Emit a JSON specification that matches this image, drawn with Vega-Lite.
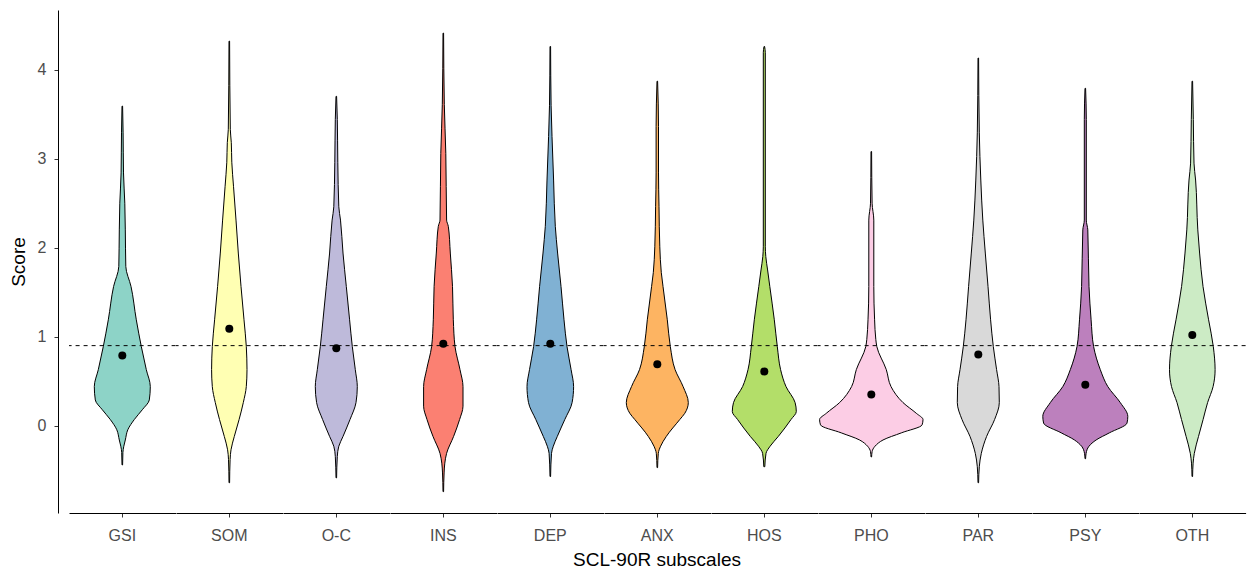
{
  "$schema": "https://vega.github.io/schema/vega-lite/v6.json",
  "padding": {"left": 9, "top": 10, "right": 0, "bottom": 0},
  "background": "white",
  "bounds": "flush",
  "data": {"values": [
    {"subscale": "GSI", "score": 3.59, "w": 0.6}, {"subscale": "GSI", "score": 3.29, "w": 1.6}, {"subscale": "GSI", "score": 2.84, "w": 2.4}, {"subscale": "GSI", "score": 2.5, "w": 5}, {"subscale": "GSI", "score": 2.2, "w": 6}, {"subscale": "GSI", "score": 1.79, "w": 7}, {"subscale": "GSI", "score": 1.565, "w": 17.4}, {"subscale": "GSI", "score": 1.19, "w": 28}, {"subscale": "GSI", "score": 0.89, "w": 38}, {"subscale": "GSI", "score": 0.63, "w": 48}, {"subscale": "GSI", "score": 0.44, "w": 56}, {"subscale": "GSI", "score": 0.29, "w": 54}, {"subscale": "GSI", "score": 0.18, "w": 40}, {"subscale": "GSI", "score": 0.07, "w": 24}, {"subscale": "GSI", "score": -0.045, "w": 11}, {"subscale": "GSI", "score": -0.16, "w": 6}, {"subscale": "GSI", "score": -0.23, "w": 3}, {"subscale": "GSI", "score": -0.3, "w": 1.2}, {"subscale": "GSI", "score": -0.44, "w": 0.6},
    {"subscale": "SOM", "score": 4.32, "w": 0.6}, {"subscale": "SOM", "score": 3.33, "w": 2}, {"subscale": "SOM", "score": 3.18, "w": 4}, {"subscale": "SOM", "score": 2.96, "w": 5}, {"subscale": "SOM", "score": 2.69, "w": 8.4}, {"subscale": "SOM", "score": 2.31, "w": 13.4}, {"subscale": "SOM", "score": 1.94, "w": 18}, {"subscale": "SOM", "score": 1.565, "w": 23.4}, {"subscale": "SOM", "score": 1.19, "w": 29.4}, {"subscale": "SOM", "score": 0.89, "w": 34}, {"subscale": "SOM", "score": 0.63, "w": 35.4}, {"subscale": "SOM", "score": 0.44, "w": 34}, {"subscale": "SOM", "score": 0.26, "w": 28}, {"subscale": "SOM", "score": 0.07, "w": 19.6}, {"subscale": "SOM", "score": -0.12, "w": 10}, {"subscale": "SOM", "score": -0.27, "w": 3.4}, {"subscale": "SOM", "score": -0.38, "w": 1.6}, {"subscale": "SOM", "score": -0.64, "w": 0.6},
    {"subscale": "O-C", "score": 3.7, "w": 0.6}, {"subscale": "O-C", "score": 3.44, "w": 2}, {"subscale": "O-C", "score": 2.96, "w": 3}, {"subscale": "O-C", "score": 2.46, "w": 5}, {"subscale": "O-C", "score": 2.31, "w": 8.4}, {"subscale": "O-C", "score": 1.94, "w": 13.4}, {"subscale": "O-C", "score": 1.565, "w": 20}, {"subscale": "O-C", "score": 1.19, "w": 26.6}, {"subscale": "O-C", "score": 0.89, "w": 32}, {"subscale": "O-C", "score": 0.63, "w": 38}, {"subscale": "O-C", "score": 0.44, "w": 42}, {"subscale": "O-C", "score": 0.26, "w": 39.4}, {"subscale": "O-C", "score": 0.07, "w": 27.4}, {"subscale": "O-C", "score": -0.12, "w": 13.4}, {"subscale": "O-C", "score": -0.23, "w": 5}, {"subscale": "O-C", "score": -0.345, "w": 2}, {"subscale": "O-C", "score": -0.585, "w": 0.6},
    {"subscale": "INS", "score": 4.41, "w": 0.6}, {"subscale": "INS", "score": 3.61, "w": 2}, {"subscale": "INS", "score": 3.06, "w": 5}, {"subscale": "INS", "score": 2.31, "w": 6.6}, {"subscale": "INS", "score": 2.24, "w": 10}, {"subscale": "INS", "score": 1.94, "w": 14}, {"subscale": "INS", "score": 1.565, "w": 18.4}, {"subscale": "INS", "score": 1.19, "w": 20}, {"subscale": "INS", "score": 0.89, "w": 23.4}, {"subscale": "INS", "score": 0.63, "w": 33.4}, {"subscale": "INS", "score": 0.44, "w": 39.4}, {"subscale": "INS", "score": 0.22, "w": 39.4}, {"subscale": "INS", "score": 0.07, "w": 32.6}, {"subscale": "INS", "score": -0.12, "w": 20.6}, {"subscale": "INS", "score": -0.31, "w": 6.6}, {"subscale": "INS", "score": -0.42, "w": 3}, {"subscale": "INS", "score": -0.53, "w": 1.6}, {"subscale": "INS", "score": -0.74, "w": 0.6},
    {"subscale": "DEP", "score": 4.26, "w": 0.6}, {"subscale": "DEP", "score": 3.6, "w": 1.6}, {"subscale": "DEP", "score": 3.25, "w": 3.4}, {"subscale": "DEP", "score": 2.76, "w": 6.6}, {"subscale": "DEP", "score": 2.24, "w": 10}, {"subscale": "DEP", "score": 1.94, "w": 14.6}, {"subscale": "DEP", "score": 1.565, "w": 21.4}, {"subscale": "DEP", "score": 1.19, "w": 27.4}, {"subscale": "DEP", "score": 0.89, "w": 33.4}, {"subscale": "DEP", "score": 0.63, "w": 41.6}, {"subscale": "DEP", "score": 0.44, "w": 46.6}, {"subscale": "DEP", "score": 0.26, "w": 43.6}, {"subscale": "DEP", "score": 0.07, "w": 29}, {"subscale": "DEP", "score": -0.12, "w": 14}, {"subscale": "DEP", "score": -0.23, "w": 6}, {"subscale": "DEP", "score": -0.31, "w": 2.4}, {"subscale": "DEP", "score": -0.57, "w": 0.6},
    {"subscale": "ANX", "score": 3.87, "w": 0.6}, {"subscale": "ANX", "score": 3.36, "w": 2.4}, {"subscale": "ANX", "score": 2.84, "w": 2.4}, {"subscale": "ANX", "score": 2.46, "w": 3.4}, {"subscale": "ANX", "score": 2.01, "w": 5}, {"subscale": "ANX", "score": 1.72, "w": 8}, {"subscale": "ANX", "score": 1.565, "w": 11.4}, {"subscale": "ANX", "score": 1.19, "w": 20}, {"subscale": "ANX", "score": 0.89, "w": 26}, {"subscale": "ANX", "score": 0.63, "w": 35.6}, {"subscale": "ANX", "score": 0.44, "w": 51.6}, {"subscale": "ANX", "score": 0.26, "w": 62}, {"subscale": "ANX", "score": 0.14, "w": 55}, {"subscale": "ANX", "score": 0.07, "w": 45}, {"subscale": "ANX", "score": -0.12, "w": 18}, {"subscale": "ANX", "score": -0.23, "w": 6.6}, {"subscale": "ANX", "score": -0.31, "w": 2}, {"subscale": "ANX", "score": -0.47, "w": 0.6},
    {"subscale": "HOS", "score": 4.26, "w": 0.6}, {"subscale": "HOS", "score": 4.19, "w": 2}, {"subscale": "HOS", "score": 2.01, "w": 2}, {"subscale": "HOS", "score": 1.9, "w": 3}, {"subscale": "HOS", "score": 1.75, "w": 6.6}, {"subscale": "HOS", "score": 1.565, "w": 11}, {"subscale": "HOS", "score": 1.19, "w": 20}, {"subscale": "HOS", "score": 0.89, "w": 26}, {"subscale": "HOS", "score": 0.63, "w": 32.6}, {"subscale": "HOS", "score": 0.44, "w": 43.4}, {"subscale": "HOS", "score": 0.26, "w": 61.6}, {"subscale": "HOS", "score": 0.16, "w": 64}, {"subscale": "HOS", "score": 0.07, "w": 53.4}, {"subscale": "HOS", "score": -0.12, "w": 28}, {"subscale": "HOS", "score": -0.23, "w": 11.6}, {"subscale": "HOS", "score": -0.31, "w": 3.4}, {"subscale": "HOS", "score": -0.46, "w": 1},
    {"subscale": "PHO", "score": 3.08, "w": 0.6}, {"subscale": "PHO", "score": 2.5, "w": 1.6}, {"subscale": "PHO", "score": 2.31, "w": 5}, {"subscale": "PHO", "score": 1.565, "w": 5}, {"subscale": "PHO", "score": 1.19, "w": 6.6}, {"subscale": "PHO", "score": 0.97, "w": 9}, {"subscale": "PHO", "score": 0.89, "w": 11}, {"subscale": "PHO", "score": 0.63, "w": 30}, {"subscale": "PHO", "score": 0.44, "w": 39.4}, {"subscale": "PHO", "score": 0.26, "w": 63.4}, {"subscale": "PHO", "score": 0.14, "w": 90}, {"subscale": "PHO", "score": 0.07, "w": 103.4}, {"subscale": "PHO", "score": 0.01, "w": 101.6}, {"subscale": "PHO", "score": -0.08, "w": 60}, {"subscale": "PHO", "score": -0.16, "w": 23.4}, {"subscale": "PHO", "score": -0.23, "w": 7.4}, {"subscale": "PHO", "score": -0.29, "w": 1.6}, {"subscale": "PHO", "score": -0.35, "w": 0.6},
    {"subscale": "PAR", "score": 4.13, "w": 0.6}, {"subscale": "PAR", "score": 3.29, "w": 2}, {"subscale": "PAR", "score": 2.76, "w": 5}, {"subscale": "PAR", "score": 2.31, "w": 9}, {"subscale": "PAR", "score": 1.94, "w": 14}, {"subscale": "PAR", "score": 1.565, "w": 19.4}, {"subscale": "PAR", "score": 1.19, "w": 24.6}, {"subscale": "PAR", "score": 0.89, "w": 30}, {"subscale": "PAR", "score": 0.63, "w": 36.6}, {"subscale": "PAR", "score": 0.44, "w": 41.4}, {"subscale": "PAR", "score": 0.26, "w": 42}, {"subscale": "PAR", "score": 0.07, "w": 32.6}, {"subscale": "PAR", "score": -0.12, "w": 16.6}, {"subscale": "PAR", "score": -0.31, "w": 6}, {"subscale": "PAR", "score": -0.46, "w": 2}, {"subscale": "PAR", "score": -0.64, "w": 0.6},
    {"subscale": "PSY", "score": 3.79, "w": 0.6}, {"subscale": "PSY", "score": 3.44, "w": 2}, {"subscale": "PSY", "score": 2.31, "w": 2}, {"subscale": "PSY", "score": 2.2, "w": 5}, {"subscale": "PSY", "score": 1.565, "w": 7.4}, {"subscale": "PSY", "score": 1.19, "w": 11.6}, {"subscale": "PSY", "score": 0.89, "w": 16.6}, {"subscale": "PSY", "score": 0.63, "w": 30}, {"subscale": "PSY", "score": 0.44, "w": 45}, {"subscale": "PSY", "score": 0.26, "w": 70}, {"subscale": "PSY", "score": 0.105, "w": 85}, {"subscale": "PSY", "score": 0.03, "w": 83.4}, {"subscale": "PSY", "score": -0.08, "w": 48}, {"subscale": "PSY", "score": -0.16, "w": 21.6}, {"subscale": "PSY", "score": -0.23, "w": 7.4}, {"subscale": "PSY", "score": -0.31, "w": 1.6}, {"subscale": "PSY", "score": -0.37, "w": 0.6},
    {"subscale": "OTH", "score": 3.87, "w": 0.6}, {"subscale": "OTH", "score": 3.44, "w": 2}, {"subscale": "OTH", "score": 2.95, "w": 3.4}, {"subscale": "OTH", "score": 2.76, "w": 6.6}, {"subscale": "OTH", "score": 2.2, "w": 11}, {"subscale": "OTH", "score": 1.94, "w": 14.6}, {"subscale": "OTH", "score": 1.565, "w": 21.4}, {"subscale": "OTH", "score": 1.19, "w": 32.6}, {"subscale": "OTH", "score": 0.89, "w": 42}, {"subscale": "OTH", "score": 0.63, "w": 45.6}, {"subscale": "OTH", "score": 0.44, "w": 41.6}, {"subscale": "OTH", "score": 0.26, "w": 30.6}, {"subscale": "OTH", "score": 0.07, "w": 21.6}, {"subscale": "OTH", "score": -0.12, "w": 12.4}, {"subscale": "OTH", "score": -0.31, "w": 4}, {"subscale": "OTH", "score": -0.42, "w": 1.6}, {"subscale": "OTH", "score": -0.57, "w": 0.6},
    {"subscale": "GSI", "mean": 0.79}, {"subscale": "SOM", "mean": 1.09}, {"subscale": "O-C", "mean": 0.87}, {"subscale": "INS", "mean": 0.92}, {"subscale": "DEP", "mean": 0.92}, {"subscale": "ANX", "mean": 0.69}, {"subscale": "HOS", "mean": 0.61}, {"subscale": "PHO", "mean": 0.35}, {"subscale": "PAR", "mean": 0.8}, {"subscale": "PSY", "mean": 0.46}, {"subscale": "OTH", "mean": 1.02}
  ]},
  "facet": {
    "column": {
      "field": "subscale", "type": "nominal",
      "sort": ["GSI", "SOM", "O-C", "INS", "DEP", "ANX", "HOS", "PHO", "PAR", "PSY", "OTH"],
      "title": "SCL-90R subscales",
      "header": {
        "labelOrient": "bottom", "titleOrient": "bottom",
        "labelFont": "Liberation Sans", "labelFontSize": 16, "labelColor": "#4D4D4D", "labelPadding": 10,
        "titleFont": "Liberation Sans", "titleFontSize": 19, "titleFontWeight": "normal", "titleColor": "black", "titlePadding": -3
      }
    }
  },
  "spacing": 0,
  "spec": {
    "width": 106.6,
    "height": 503,
    "layer": [
      {
        "transform": [
          {"filter": "isValid(datum.w)"},
          {"calculate": "-datum.w / 2", "as": "lo"},
          {"calculate": "datum.w / 2", "as": "hi"}
        ],
        "mark": {"type": "area", "orient": "horizontal", "stroke": "black", "strokeWidth": 1, "interpolate": "monotone", "opacity": 1},
        "encoding": {
          "y": {"field": "score", "type": "quantitative", "scale": {"domain": [-0.98, 4.67], "nice": false, "zero": false},
                "axis": {"title": "Score", "values": [0, 1, 2, 3, 4], "format": "d", "grid": false, "offset": 11, "tickSize": 4, "labelPadding": 8, "domainColor": "black", "tickColor": "#333333", "labelColor": "#4D4D4D", "labelFontSize": 16, "labelFont": "Liberation Sans", "titleFont": "Liberation Sans", "titleFontSize": 19, "titleFontWeight": "normal", "titleColor": "black", "titlePadding": 9}},
          "x": {"field": "lo", "type": "quantitative", "scale": {"domain": [-53.3, 53.3], "nice": false, "zero": false},
                "axis": {"title": null, "values": [0], "labels": false, "grid": false, "tickSize": 4, "domainColor": "black", "tickColor": "#333333"}},
          "x2": {"field": "hi"},
          "color": {"field": "subscale", "type": "nominal", "legend": null,
                    "scale": {"domain": ["GSI", "SOM", "O-C", "INS", "DEP", "ANX", "HOS", "PHO", "PAR", "PSY", "OTH"],
                              "range": ["#8DD3C7", "#FFFFB3", "#BEBADA", "#FB8072", "#80B1D3", "#FDB462", "#B3DE69", "#FCCDE5", "#D9D9D9", "#BC80BD", "#CCEBC5"]}}
        }
      },
      {
        "transform": [{"filter": "isValid(datum.mean)"}],
        "mark": {"type": "rule", "color": "black", "strokeWidth": 1, "strokeDash": [4, 4]},
        "encoding": {"y": {"datum": 0.9}}
      },
      {
        "transform": [{"filter": "isValid(datum.mean)"}],
        "mark": {"type": "point", "filled": true, "color": "black", "size": 64, "opacity": 1, "shape": "circle"},
        "encoding": {
          "y": {"field": "mean", "type": "quantitative"},
          "x": {"datum": 0}
        }
      }
    ]
  },
  "config": {"view": {"stroke": null}, "font": "Liberation Sans"}
}
